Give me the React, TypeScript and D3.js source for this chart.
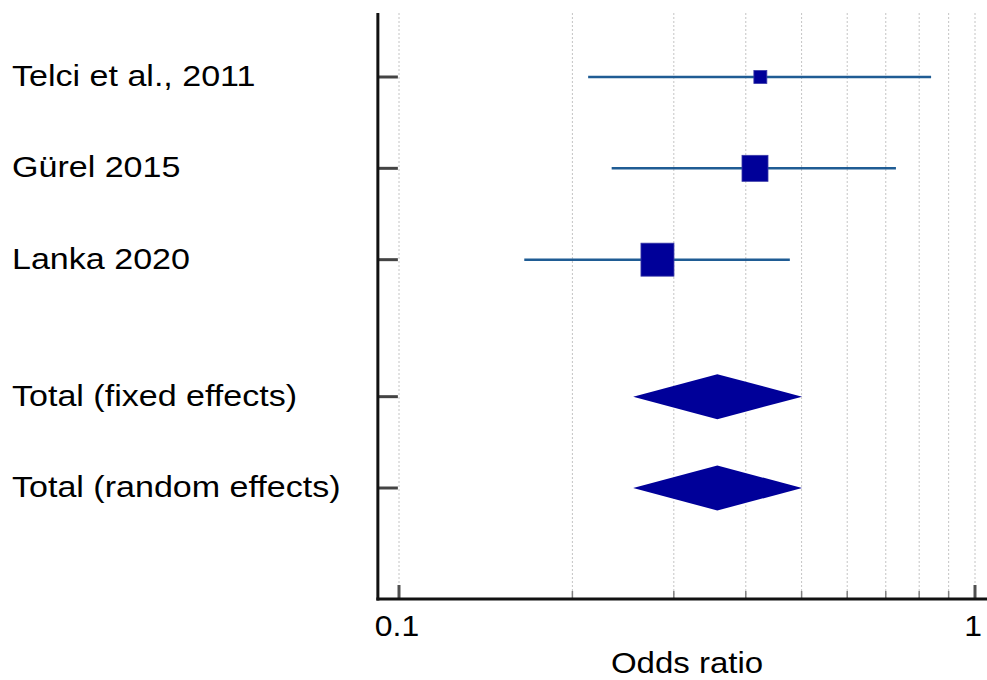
import React, { useRef, useEffect } from 'react';
import * as d3 from 'd3';

// study rows
const studies = ['Telci et al., 2011', 'Gürel 2015', 'Lanka 2020'];
const studyOR = [0.424, 0.415, 0.281];
const studyLower = [0.213, 0.234, 0.165];
const studyUpper = [0.839, 0.729, 0.477];
const studyWeight = [8.7, 35.0, 56.3];

// pooled rows
const pooled = ['Total (fixed effects)', 'Total (random effects)'];
const pooledOR = [0.357, 0.357];
const pooledLower = [0.255, 0.255];
const pooledUpper = [0.501, 0.501];

const rowIndex = [0, 1, 2, 3.5, 4.5];
const majorTicks = [0.1, 1];
const minorTicks = [0.2, 0.3, 0.4, 0.5, 0.6, 0.7, 0.8, 0.9];

const width = 987;
const height = 680;

const App: React.FC = () => {
  const svgRef = useRef<SVGSVGElement>(null);

  useEffect(() => {
    if (!svgRef.current) return;
    const svg = d3.select(svgRef.current);
    svg.selectAll('*').remove();

    const font = 'Arial, "Liberation Sans", sans-serif';
    const stretch = 1.1; // text in the original is a bit wider than plain Arial
    const labelStretch = 1.135;

    const xScale = d3.scaleLog().domain([0.1, 1]).range([399, 975]);
    const yScale = d3.scaleLinear().domain([0, 4.5]).range([77, 488]);
    const sizeScale = d3.scaleSqrt().domain([0, 56.3]).range([0, 33]);

    const axisLeft = xScale(0.0919);
    const axisRight = xScale(1.05);
    const axisTop = 13;
    const axisBottom = 599;

    // grid lines
    svg.append('g')
      .selectAll('line')
      .data([...majorTicks, ...minorTicks])
      .enter().append('line')
      .attr('x1', d => xScale(d))
      .attr('x2', d => xScale(d))
      .attr('y1', axisTop)
      .attr('y2', axisBottom)
      .attr('stroke', '#c4c4c4')
      .attr('stroke-width', 1)
      .attr('stroke-dasharray', '2,2');

    // bottom ticks
    svg.append('g')
      .selectAll('line')
      .data(minorTicks)
      .enter().append('line')
      .attr('x1', d => xScale(d))
      .attr('x2', d => xScale(d))
      .attr('y1', axisBottom - 8)
      .attr('y2', axisBottom)
      .attr('stroke', '#808080')
      .attr('stroke-width', 1.5);

    svg.append('g')
      .selectAll('line')
      .data(majorTicks)
      .enter().append('line')
      .attr('x1', d => xScale(d))
      .attr('x2', d => xScale(d))
      .attr('y1', axisBottom - 14)
      .attr('y2', axisBottom)
      .attr('stroke', '#505050')
      .attr('stroke-width', 3);

    // tick labels
    svg.append('g')
      .selectAll('text')
      .data(majorTicks)
      .enter().append('text')
      .attr('transform', d => `translate(${xScale(d) - 2},636) scale(${stretch},1)`)
      .attr('text-anchor', 'middle')
      .style('font-family', font)
      .style('font-size', '29px')
      .style('fill', '#000')
      .text(d => String(d));

    svg.append('text')
      .attr('transform', `translate(687,673) scale(${stretch},1)`)
      .attr('text-anchor', 'middle')
      .style('font-family', font)
      .style('font-size', '30px')
      .style('fill', '#000')
      .text('Odds ratio');

    // row ticks
    svg.append('g')
      .selectAll('line')
      .data(rowIndex)
      .enter().append('line')
      .attr('x1', axisLeft)
      .attr('x2', axisLeft + 20)
      .attr('y1', d => yScale(d))
      .attr('y2', d => yScale(d))
      .attr('stroke', '#444')
      .attr('stroke-width', 3);

    // axis lines
    svg.append('line')
      .attr('x1', axisLeft).attr('x2', axisLeft)
      .attr('y1', axisTop).attr('y2', axisBottom + 1.5)
      .attr('stroke', '#111').attr('stroke-width', 3);
    svg.append('line')
      .attr('x1', axisLeft - 1.5).attr('x2', axisRight)
      .attr('y1', axisBottom).attr('y2', axisBottom)
      .attr('stroke', '#111').attr('stroke-width', 3);

    // labels
    const labels = [...studies, ...pooled];
    svg.append('g')
      .selectAll('text')
      .data(labels)
      .enter().append('text')
      .attr('transform', (_d, i) => `translate(12,${yScale(rowIndex[i]) + 9}) scale(${labelStretch},1)`)
      .style('font-family', font)
      .style('font-size', '30px')
      .style('fill', '#000')
      .text(d => d);

    // study CIs
    svg.append('g')
      .selectAll('line')
      .data(studies)
      .enter().append('line')
      .attr('x1', (_d, i) => xScale(studyLower[i]))
      .attr('x2', (_d, i) => xScale(studyUpper[i]))
      .attr('y1', (_d, i) => yScale(rowIndex[i]))
      .attr('y2', (_d, i) => yScale(rowIndex[i]))
      .attr('stroke', '#1f5c94')
      .attr('stroke-width', 2.5);

    // study squares
    svg.append('g')
      .selectAll('rect')
      .data(studies)
      .enter().append('rect')
      .attr('x', (_d, i) => xScale(studyOR[i]) - sizeScale(studyWeight[i]) / 2)
      .attr('y', (_d, i) => yScale(rowIndex[i]) - sizeScale(studyWeight[i]) / 2)
      .attr('width', (_d, i) => sizeScale(studyWeight[i]))
      .attr('height', (_d, i) => sizeScale(studyWeight[i]))
      .attr('fill', '#000099')
      .attr('stroke', '#3a3aa8')
      .attr('stroke-width', 0.8);

    // pooled diamonds
    svg.append('g')
      .selectAll('path')
      .data(pooled)
      .enter().append('path')
      .attr('d', (_d, i) => {
        const y = yScale(rowIndex[i + 3]);
        const h = 22.5;
        return `M${xScale(pooledLower[i])},${y}L${xScale(pooledOR[i])},${y - h}L${xScale(pooledUpper[i])},${y}L${xScale(pooledOR[i])},${y + h}Z`;
      })
      .attr('fill', '#000099');
  }, []);

  return (
    <svg
      ref={svgRef}
      width={width}
      height={height}
      style={{ position: 'absolute', left: 0, top: 0, background: '#fff' }}
    />
  );
};

export default App;
